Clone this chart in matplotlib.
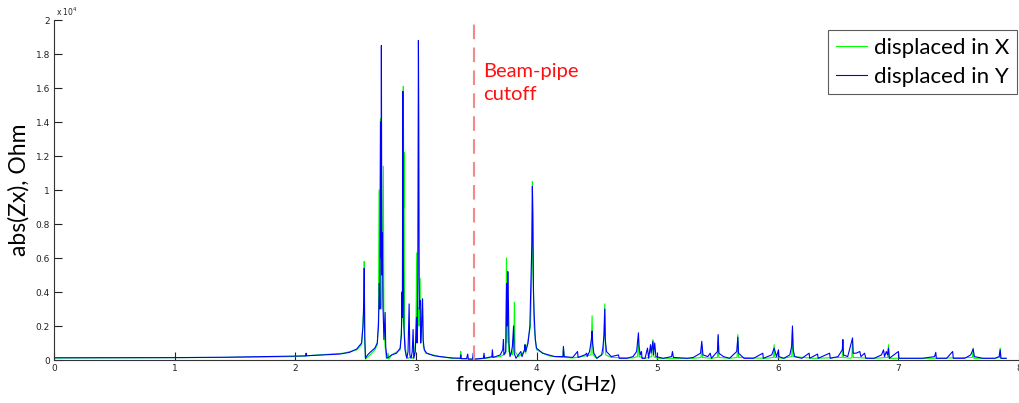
import matplotlib
matplotlib.use("Agg")
import matplotlib.pyplot as plt

# frequency in GHz, abs(Zx) in units of 1e4 Ohm
freq_y = [0.0, 1.0, 1.4, 1.96, 2.088, 2.09, 2.092, 2.37, 2.45, 2.51, 2.55, 2.562, 2.568, 2.572, 2.576,
          2.582, 2.60, 2.62, 2.66, 2.68, 2.69, 2.697, 2.702, 2.707, 2.711, 2.714, 2.718, 2.722, 2.728,
          2.735, 2.745, 2.75, 2.76, 2.78, 2.80, 2.84, 2.87, 2.88, 2.884, 2.888, 2.892, 2.896, 2.900,
          2.91, 2.925, 2.935, 2.944, 2.95, 2.96, 2.97, 2.977, 2.983, 2.995, 3.005, 3.01, 3.016, 3.021,
          3.024, 3.028, 3.035, 3.04, 3.047, 3.054, 3.06, 3.07, 3.09, 3.15, 3.2, 3.3, 3.37, 3.372, 3.375,
          3.42, 3.43, 3.435, 3.47, 3.475, 3.48, 3.56, 3.565, 3.57, 3.63, 3.634, 3.64, 3.70, 3.72, 3.726,
          3.73, 3.745, 3.752, 3.756, 3.762, 3.767, 3.772, 3.78, 3.79, 3.80, 3.81, 3.815, 3.83, 3.85,
          3.87, 3.88, 3.9, 3.905, 3.91, 3.93, 3.945, 3.955, 3.962, 3.966, 3.97, 3.975, 3.98, 3.99, 4.0,
          4.05, 4.1, 4.15, 4.22, 4.223, 4.23, 4.3, 4.34, 4.345, 4.4, 4.417, 4.42, 4.44, 4.455, 4.461,
          4.465, 4.475, 4.5, 4.54, 4.55, 4.56, 4.566, 4.57, 4.58, 4.62, 4.68, 4.685, 4.75, 4.8, 4.83,
          4.845, 4.85, 4.86, 4.87, 4.875, 4.9, 4.92, 4.93, 4.945, 4.95, 4.965, 4.97, 4.98, 4.99, 5.05,
          5.12, 5.127, 5.135, 5.25, 5.3, 5.36, 5.37, 5.38, 5.42, 5.44, 5.45, 5.5, 5.506, 5.512, 5.55,
          5.6, 5.66, 5.669, 5.675, 5.72, 5.8, 5.876, 5.88, 5.95, 5.97, 5.978, 5.99, 6.006, 6.01, 6.05,
          6.1, 6.115, 6.122, 6.128, 6.14, 6.2, 6.26, 6.265, 6.33, 6.335, 6.43, 6.435, 6.5, 6.535, 6.54,
          6.545, 6.58, 6.62, 6.625, 6.65, 6.68, 6.69, 6.72, 6.73, 6.8, 6.86, 6.877, 6.885, 6.9, 6.91,
          6.918, 6.925, 7.0, 7.005, 7.1, 7.2, 7.3, 7.31, 7.315, 7.4, 7.45, 7.455, 7.55, 7.6, 7.62, 7.63,
          7.7, 7.8, 7.835, 7.844, 7.85, 7.894]
zx_y = [0.013, 0.014, 0.016, 0.022, 0.024, 0.04, 0.025, 0.035, 0.045, 0.065, 0.10, 0.2, 0.35, 0.54, 0.15,
        0.01, 0.03, 0.045, 0.07, 0.10, 0.2, 0.45, 0.3, 1.40, 0.6, 1.85, 0.5, 0.75, 0.3,
        0.12, 0.28, 0.08, 0.01, 0.02, 0.03, 0.04, 0.07, 0.15, 0.40, 0.25, 1.58, 0.6, 0.2,
        0.06, 0.01, 0.05, 0.33, 0.03, 0.01, 0.05, 0.18, 0.01, 0.05, 0.25, 0.1, 0.5, 1.88,
        1.4, 0.3, 0.35, 0.1, 0.2, 0.36, 0.12, 0.06, 0.04, 0.025, 0.02, 0.012, 0.01, 0.03, 0.008,
        0.008, 0.035, 0.005, 0.005, 0.04, 0.005, 0.01, 0.04, 0.01, 0.02, 0.06, 0.015, 0.03, 0.06, 0.12,
        0.03, 0.05, 0.45, 0.2, 0.52, 0.35, 0.1, 0.02, 0.04, 0.08, 0.2, 0.04, 0.01, 0.03,
        0.05, 0.02, 0.06, 0.09, 0.05, 0.1, 0.2, 0.5, 0.7, 1.02, 0.85, 0.4, 0.28, 0.12, 0.07,
        0.04, 0.03, 0.02, 0.02, 0.08, 0.02, 0.015, 0.05, 0.015, 0.03, 0.04, 0.02, 0.05, 0.12, 0.17,
        0.1, 0.04, 0.01, 0.03, 0.07, 0.15, 0.30, 0.12, 0.05, 0.02, 0.03, 0.01, 0.01, 0.02, 0.05,
        0.16, 0.08, 0.03, 0.05, 0.01, 0.01, 0.07, 0.01, 0.09, 0.04, 0.11, 0.03, 0.10, 0.02, 0.01,
        0.02, 0.05, 0.015, 0.01, 0.015, 0.04, 0.11, 0.03, 0.02, 0.04, 0.01, 0.05, 0.15, 0.04, 0.02,
        0.01, 0.05, 0.135, 0.04, 0.01, 0.01, 0.04, 0.01, 0.03, 0.07, 0.05, 0.02, 0.06, 0.02, 0.01,
        0.03, 0.08, 0.20, 0.06, 0.02, 0.01, 0.04, 0.01, 0.035, 0.01, 0.04, 0.01, 0.02, 0.06, 0.12,
        0.03, 0.02, 0.13, 0.04, 0.04, 0.05, 0.02, 0.04, 0.01, 0.01, 0.03, 0.06, 0.02, 0.05, 0.03,
        0.07, 0.01, 0.05, 0.01, 0.01, 0.01, 0.02, 0.045, 0.01, 0.01, 0.05, 0.01, 0.01, 0.03, 0.065, 0.02,
        0.01, 0.01, 0.02, 0.06, 0.01, 0.01]

freq_x = [0.0, 1.4, 2.0, 2.4, 2.51, 2.55, 2.568, 2.572, 2.576, 2.582, 2.62, 2.66, 2.68, 2.69, 2.695,
          2.700, 2.706, 2.71, 2.718, 2.73, 2.735, 2.745, 2.755, 2.77, 2.775, 2.80, 2.87, 2.89, 2.896,
          2.90, 2.902, 2.906, 2.92, 2.935, 2.96, 2.975, 2.99, 3.0, 3.007, 3.012, 3.02, 3.025, 3.035,
          3.04, 3.057, 3.062, 3.08, 3.2, 3.3, 3.368, 3.372, 3.376, 3.5, 3.7, 3.745, 3.751, 3.756,
          3.765, 3.77, 3.8, 3.812, 3.817, 3.822, 3.85, 3.9, 3.905, 3.91, 3.95, 3.96, 3.966, 3.97,
          3.98, 4.0, 4.1, 4.218, 4.223, 4.228, 4.3, 4.452, 4.461, 4.468, 4.5, 4.555, 4.566, 4.574,
          4.62, 4.8, 4.838, 4.845, 4.852, 4.9, 4.955, 4.965, 4.972, 5.0, 5.3, 5.364, 5.37, 5.376,
          5.45, 5.5, 5.506, 5.512, 5.6, 5.663, 5.669, 5.675, 5.9, 5.964, 5.97, 5.976, 6.05, 6.116,
          6.122, 6.128, 6.3, 6.534, 6.54, 6.546, 6.6, 6.614, 6.62, 6.626, 6.8, 6.912, 6.918, 6.924,
          7.3, 7.614, 7.62, 7.626, 7.8, 7.838, 7.844, 7.85, 7.894]
zx_x = [0.012, 0.015, 0.02, 0.04, 0.06, 0.09, 0.3, 0.58, 0.1, 0.005, 0.03, 0.06, 0.09, 0.25, 1.0,
        0.3, 1.42, 0.4, 0.3, 1.14, 0.2, 0.08, 0.01, 0.04, 0.005, 0.03, 0.06, 0.3, 1.61,
        0.9, 1.22, 0.15, 0.02, 0.01, 0.02, 0.01, 0.04, 0.15, 0.63, 0.15, 0.3, 0.2, 0.48,
        0.1, 0.36, 0.08, 0.04, 0.02, 0.01, 0.01, 0.05, 0.008, 0.005, 0.02, 0.04, 0.60, 0.1,
        0.3, 0.05, 0.03, 0.1, 0.34, 0.05, 0.02, 0.05, 0.09, 0.04, 0.2, 0.5, 1.05, 0.6,
        0.2, 0.06, 0.025, 0.015, 0.07, 0.015, 0.012, 0.03, 0.26, 0.03, 0.01, 0.04, 0.33, 0.03,
        0.015, 0.012, 0.02, 0.12, 0.02, 0.01, 0.02, 0.12, 0.02, 0.01, 0.01, 0.015, 0.09, 0.015,
        0.01, 0.015, 0.14, 0.015, 0.01, 0.015, 0.15, 0.015, 0.01, 0.015, 0.09, 0.015, 0.01, 0.02,
        0.18, 0.02, 0.01, 0.015, 0.1, 0.015, 0.01, 0.015, 0.11, 0.015, 0.01, 0.015, 0.09, 0.01,
        0.01, 0.015, 0.07, 0.01, 0.01, 0.015, 0.07, 0.01, 0.01]

xticks = [0, 1, 2, 3, 4, 5, 6, 7, 8]
yticks = [0, 0.2, 0.4, 0.6, 0.8, 1.0, 1.2, 1.4, 1.6, 1.8, 2.0]
ytick_labels = ['0', '0.2', '0.4', '0.6', '0.8', '1', '1.2', '1.4', '1.6', '1.8', '2']
cutoff = 3.48

fig = plt.figure(figsize=(10.19, 4.03), dpi=100)
ax = fig.add_axes([54 / 1019, 43 / 403, 965 / 1019, 340 / 403])

ax.plot(freq_x, zx_x, color='#00ff00', lw=0.8, label='displaced in X')
ax.plot(freq_y, zx_y, color='#0000ff', lw=0.8, label='displaced in Y')
ax.axvline(cutoff, ymin=0, ymax=0.995, color='#f28a8a', lw=1.5, dashes=(7, 4))

ax.set_xlim(0, 8)
ax.set_ylim(0, 2)
ax.set_xticks(xticks)
ax.set_yticks(yticks)
ax.set_yticklabels(ytick_labels)
ax.tick_params(direction='in', length=6, width=0.8, labelsize=6.5, colors='#222222', pad=3)
for s in ['top', 'right']:
    ax.spines[s].set_visible(False)
for s in ['left', 'bottom']:
    ax.spines[s].set_color('#333333')
    ax.spines[s].set_linewidth(0.8)

ax.set_xlabel('frequency (GHz)', fontsize=16, family='Lato', labelpad=1)
ax.set_ylabel('abs(Zx), Ohm', fontsize=16.5, family='Lato', labelpad=4)
fig.text(56 / 1019, 1 - 16 / 403, 'x 10$^4$', fontsize=5.5, color='#222222')

fig.text(483 / 1019, 1 - 63 / 403, 'Beam-pipe\ncutoff', color='#ff1010', fontsize=14.5,
         family='Lato', va='top', linespacing=1.45)

leg = ax.legend(loc='upper right', bbox_to_anchor=(1017 / 1019, 1 - 30 / 403),
                bbox_transform=fig.transFigure, prop={'family': 'Lato', 'size': 16},
                frameon=True, fancybox=False, borderpad=0.35, handlelength=1.4,
                handletextpad=0.3, labelspacing=0.4, borderaxespad=0)
leg.get_frame().set_edgecolor('#333333')
leg.get_frame().set_linewidth(0.8)

fig.savefig('out.png', dpi=100)
